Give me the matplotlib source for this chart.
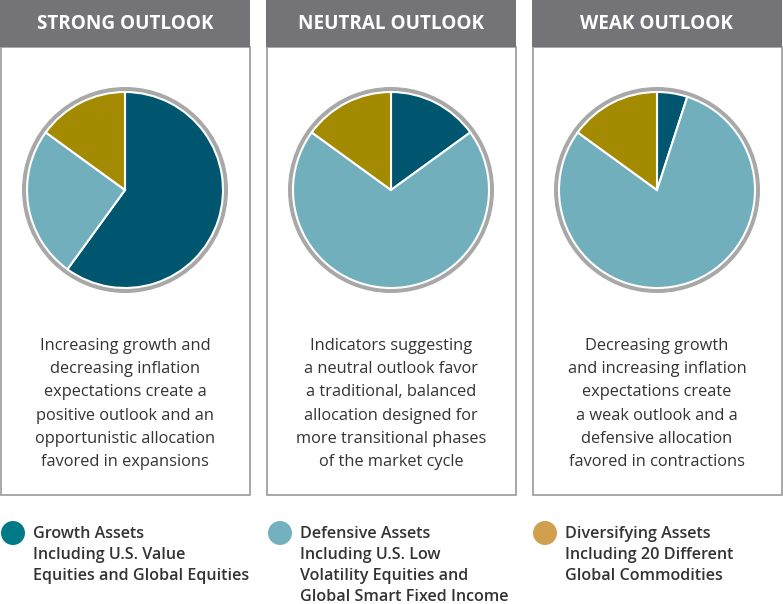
import matplotlib
matplotlib.use('Agg')
import matplotlib.pyplot as plt
from matplotlib.patches import Rectangle, Circle

plt.rcParams['font.family'] = ['Open Sans', 'DejaVu Sans']

# data
titles = ["STRONG OUTLOOK", "NEUTRAL OUTLOOK", "WEAK OUTLOOK"]
growth = [60, 15, 5]
defensive = [25, 70, 80]
diversifying = [15, 15, 15]
blurbs = [
    "Increasing growth and\ndecreasing inflation\nexpectations create a\npositive outlook and an\nopportunistic allocation\nfavored in expansions",
    "Indicators suggesting\na neutral outlook favor\na traditional, balanced\nallocation designed for\nmore transitional phases\nof the market cycle",
    "Decreasing growth\nand increasing inflation\nexpectations create\na weak outlook and a\ndefensive allocation\nfavored in contractions",
]
legend_labels = [
    "Growth Assets\nIncluding U.S. Value\nEquities and Global Equities",
    "Defensive Assets\nIncluding U.S. Low\nVolatility Equities and\nGlobal Smart Fixed Income",
    "Diversifying Assets\nIncluding 20 Different\nGlobal Commodities",
]

pie_colors = ["#00566f", "#72afbd", "#a38a00"]
legend_colors = ["#007a87", "#74b1bf", "#d0a04f"]
header_col = "#747378"
text_col = "#333333"

W, H = 783, 604
fig = plt.figure(figsize=(W / 100, H / 100), dpi=100)
ax = fig.add_axes([0, 0, 1, 1])

panel_x = [0, 266, 532]
panel_w = 250
for i, x0 in enumerate(panel_x):
    ax.add_patch(Rectangle((x0 + 0.5, 47), panel_w - 1, 448, facecolor='white',
                           edgecolor='#9a9a9a', lw=1.2))
    ax.add_patch(Rectangle((x0, 0), panel_w, 47, facecolor=header_col, edgecolor='none'))
    ax.text(x0 + panel_w / 2, 24, titles[i], color='white', fontsize=13.6,
            fontweight='bold', ha='center', va='center')
    cx, cy = x0 + 125, 190
    ax.add_patch(Circle((cx, cy), 103, facecolor='#a8a8a8', edgecolor='none'))
    vals = [growth[i], defensive[i], diversifying[i]]
    # y axis is inverted, so counterclock=True draws clockwise on screen
    ax.pie(vals, colors=pie_colors, center=(cx, cy), radius=98, startangle=-90,
           counterclock=True, frame=True,
           wedgeprops=dict(edgecolor='white', linewidth=1.5))
    ax.text(x0 + panel_w / 2, 404, blurbs[i], color=text_col, fontsize=11.8,
            ha='center', va='center', linespacing=1.6)

ax.set_xlim(0, W)
ax.set_ylim(H, 0)
ax.set_aspect('equal')
ax.axis('off')

leg_x = [13, 280, 545]
for i, lx in enumerate(leg_x):
    ax.add_patch(Circle((lx, 533), 12, facecolor=legend_colors[i], edgecolor='none'))
    ax.text(lx + 20, 526, legend_labels[i], color=text_col, fontsize=11.6,
            fontweight='semibold', ha='left', va='top', linespacing=1.42)

fig.savefig('out.png', dpi=100)
